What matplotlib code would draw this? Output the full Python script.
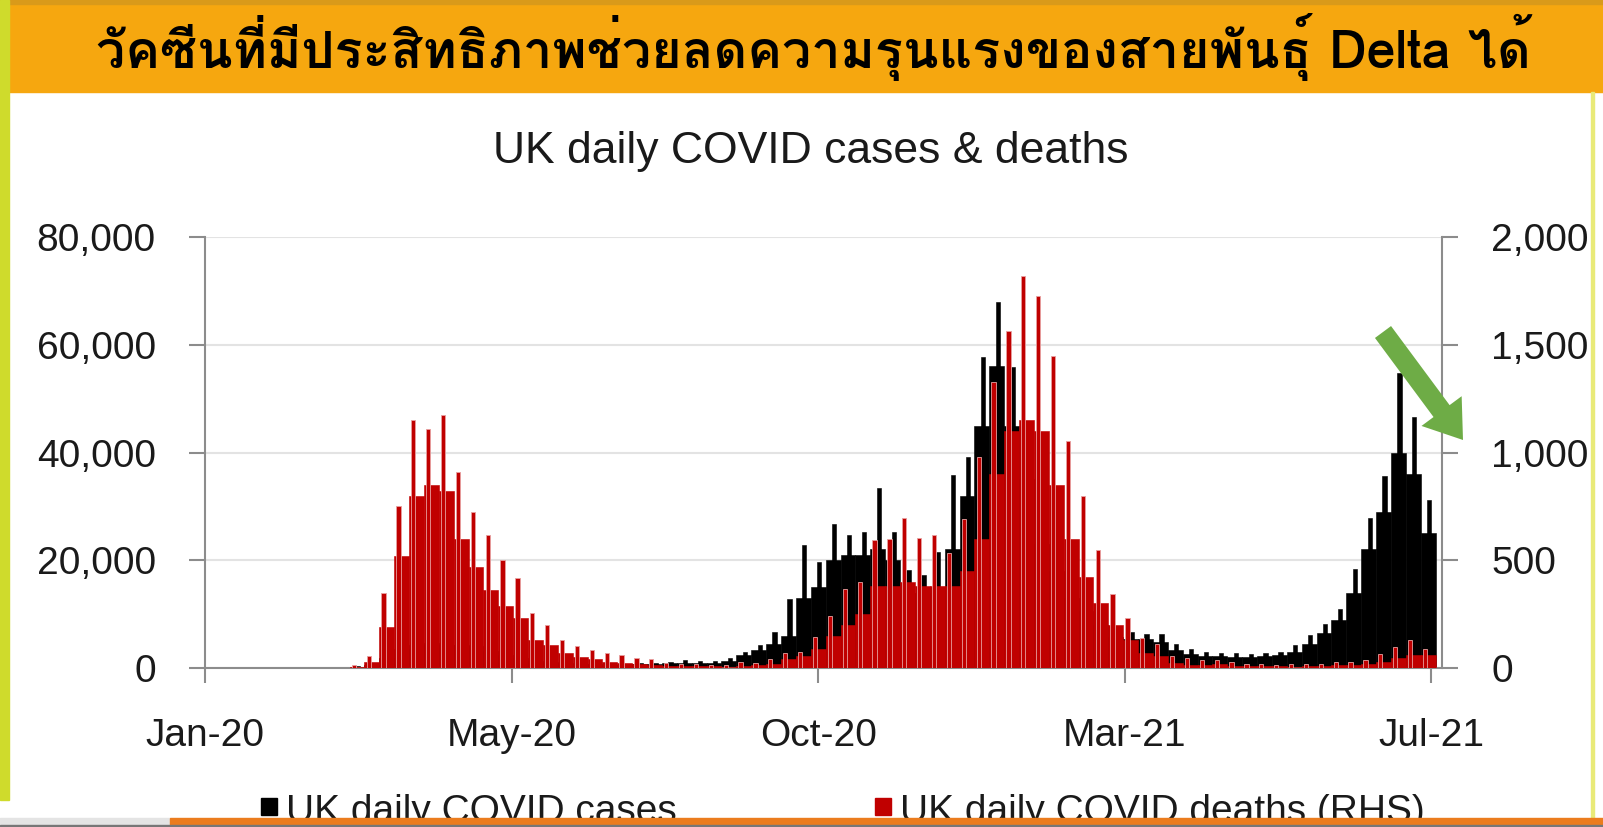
import matplotlib
matplotlib.use("Agg")
import matplotlib.pyplot as plt
import numpy as np
import pandas as pd
from matplotlib import font_manager
from matplotlib.ft2font import FT2Font
from matplotlib.patches import Rectangle, FancyArrow

# weekly data, weeks starting Monday 27 Jan 2020
week_start = pd.date_range("2020-01-27", periods=79, freq="7D")

# UK daily COVID cases: weekly high day and typical day
cases_hi = [2, 4, 5, 1, 20, 50, 340, 1000, 2900, 4450,
            5900, 5600, 5400, 6200, 6100, 3900, 3000, 2600, 1900, 1700,
            1200, 1200, 1000, 700, 800, 850, 1000, 1100, 1450, 1300,
            1300, 1900, 3000, 4300, 6600, 12900, 22900, 19700, 26700, 24700,
            25200, 33500, 25300, 18200, 17300, 21500, 35900, 39200, 57700, 68000,
            55800, 41300, 28700, 20600, 15100, 12700, 9900, 6600, 6600, 6300,
            6400, 4500, 3600, 3000, 2700, 2700, 2600, 2700, 3000, 4200,
            6200, 8100, 11000, 18300, 27900, 35700, 54700, 46500, 31100]
cases_lo = [1, 2, 2, 0, 8, 30, 200, 600, 1800, 3500,
            4300, 4600, 4300, 4200, 4000, 3200, 2400, 1800, 1300, 1100,
            950, 800, 650, 550, 600, 650, 750, 850, 1000, 1000,
            1000, 1300, 2500, 3300, 4400, 6000, 13000, 15000, 20000, 21000,
            21000, 22000, 20000, 14000, 14000, 15000, 22000, 32000, 45000, 56000,
            45000, 35000, 23000, 18000, 13000, 10500, 8000, 5800, 5300, 5300,
            4800, 3300, 2600, 2300, 2200, 2000, 2000, 2200, 2400, 3000,
            4500, 6500, 9000, 14000, 22000, 29000, 40000, 36000, 25000]

# UK daily COVID deaths (RHS): weekly high day and typical day
deaths_hi = [0, 0, 0, 0, 0, 2, 14, 56, 350, 750,
             1150, 1110, 1174, 910, 724, 617, 501, 418, 255, 200,
             130, 100, 85, 70, 60, 45, 40, 25, 20, 18,
             16, 15, 30, 25, 40, 71, 76, 143, 241, 367,
             397, 595, 598, 696, 603, 616, 532, 691, 981, 1325,
             1564, 1820, 1725, 1449, 1052, 799, 548, 343, 231, 141,
             112, 56, 45, 35, 37, 30, 20, 17, 15, 18,
             18, 19, 27, 28, 37, 63, 96, 131, 86]
deaths_lo = [0, 0, 0, 0, 0, 1, 5, 30, 190, 520,
             800, 850, 820, 600, 470, 360, 290, 230, 130, 105,
             70, 50, 40, 30, 25, 18, 15, 10, 8, 8,
             7, 6, 8, 12, 20, 40, 55, 90, 150, 200,
             250, 380, 380, 400, 380, 380, 380, 450, 600, 900,
             1100, 1150, 1100, 850, 600, 420, 300, 200, 130, 70,
             55, 25, 15, 15, 18, 10, 8, 7, 7, 6,
             8, 9, 12, 15, 18, 30, 45, 60, 60]

series_names = ["UK daily COVID cases", "UK daily COVID deaths (RHS)"]
x_labels = ["Jan-20", "May-20", "Oct-20", "Mar-21", "Jul-21"]
y_left = [0, 20000, 40000, 60000, 80000]
y_right = [0, 500, 1000, 1500, 2000]

banner = "วัคซีนที่มีประสิทธิภาพช่วยลดความรุนแรงของสายพันธุ์ Delta ได้"
title = "UK daily COVID cases & deaths"


def thai_family():
    names = []
    for f in font_manager.fontManager.ttflist:
        try:
            if FT2Font(f.fname).get_char_index(0x0E27):
                names.append(f.name)
        except Exception:
            pass
    return names


thai = thai_family()
plt.rcParams['font.family'] = ['Liberation Sans', 'DejaVu Sans']

W, H = 1603, 827
fig = plt.figure(figsize=(W / 100, H / 100), dpi=100)

# background decorations in pixel coords
bg = fig.add_axes([0, 0, 1, 1], zorder=0)
bg.set_xlim(0, W)
bg.set_ylim(H, 0)
bg.axis('off')
bg.add_patch(Rectangle((0, 0), W, H, color='white'))
bg.add_patch(Rectangle((0, 0), W, 92, color='#F6A70F'))
bg.add_patch(Rectangle((0, 0), W, 4, color='#D99A1A'))
bg.add_patch(Rectangle((0, 0), 9, 800, color='#CFDB2C'))
bg.add_patch(Rectangle((1591, 92), 3, 726, color='#E9EA78'))
bg.text(813, 47, banner, ha='center', va='center', fontsize=37.5,
        fontweight='bold', family=thai + ['DejaVu Sans'], color='black')

fig.text(811 / W, 1 - 152 / H, title, ha='center', va='center',
         fontsize=32, color='#1a1a1a')

day0 = pd.Timestamp("2020-01-01")
days = np.array((week_start - day0).days, dtype=float)

ax = fig.add_axes([205 / W, (H - 668) / H, 1237 / W, 431 / H])
ax2 = ax.twinx()
ax.set_zorder(1)
ax2.set_zorder(2)
ax.patch.set_visible(False)
ax2.patch.set_visible(False)

ax.bar(days, cases_lo, width=7, align='edge', color='black',
       edgecolor='black', linewidth=0.4)
ax.bar(days + 3, cases_hi, width=2, align='edge', color='black',
       edgecolor='black', linewidth=0.4)
ax2.bar(days, deaths_lo, width=7, align='edge', color='#C00000',
        edgecolor='#C00000', linewidth=0.4)
ax2.bar(days + 1, deaths_hi, width=2, align='edge', color='#C00000',
        edgecolor='#E8A0A0', linewidth=0.6)

ax.set_xlim(0, 582)
ax.set_ylim(0, 80000)
ax2.set_ylim(0, 2000)
ax.set_xticks(np.linspace(0, 577, 5))
ax.set_xticklabels(x_labels)
ax.set_yticks(y_left)
ax.set_yticklabels([f"{v:,}" for v in y_left])
ax2.set_yticks(y_right)
ax2.set_yticklabels([f"{v:,}" for v in y_right])

ax.grid(axis='y', color='#E3E3E3', linewidth=1.5)
ax.set_axisbelow(True)

spine_c = '#8C8C8C'
for a in (ax, ax2):
    a.spines['top'].set_visible(False)
ax.spines['right'].set_visible(False)
ax2.spines['left'].set_visible(False)
ax2.spines['bottom'].set_visible(False)
ax.spines['left'].set_color(spine_c)
ax.spines['bottom'].set_color(spine_c)
ax2.spines['right'].set_color(spine_c)
for s in (ax.spines['left'], ax.spines['bottom'], ax2.spines['right']):
    s.set_linewidth(1.5)

ax.tick_params(axis='y', direction='out', length=11.5, width=1.5,
               color=spine_c, pad=24, labelsize=28, labelcolor='#1a1a1a')
ax2.tick_params(axis='y', direction='out', length=11.5, width=1.5,
                color=spine_c, pad=24, labelsize=28, labelcolor='#1a1a1a')
ax.tick_params(axis='x', direction='out', length=11, width=1.5,
               color=spine_c, pad=25, labelsize=28, labelcolor='#1a1a1a')

# foreground: arrow, legend, bottom strip
fg = fig.add_axes([0, 0, 1, 1], zorder=5)
fg.set_xlim(0, W)
fg.set_ylim(H, 0)
fg.axis('off')
fg.patch.set_visible(False)
fg.add_patch(FancyArrow(1383, 332, 80, 108, width=20, head_width=50,
                        head_length=36, length_includes_head=True,
                        color='#6EAC46', linewidth=0))

# legend, cut off by the orange strip as in the source screenshot
fg.add_patch(Rectangle((261, 798), 16, 17, color='black'))
fg.text(286, 794, series_names[0], ha='left', va='top', fontsize=28,
        color='#1a1a1a')
fg.add_patch(Rectangle((875, 798), 16, 17, color='#C00000'))
fg.text(900, 794, series_names[1], ha='left', va='top', fontsize=28,
        color='#1a1a1a')
fg.add_patch(Rectangle((0, 818), 170, 9, color='#E4E4E4', zorder=6))
fg.add_patch(Rectangle((170, 818), W - 170, 7, color='#EB7C1E', zorder=6))
fg.add_patch(Rectangle((0, 825), W, 2, color='#777777', zorder=6))

fig.savefig("out.png", dpi=100)
